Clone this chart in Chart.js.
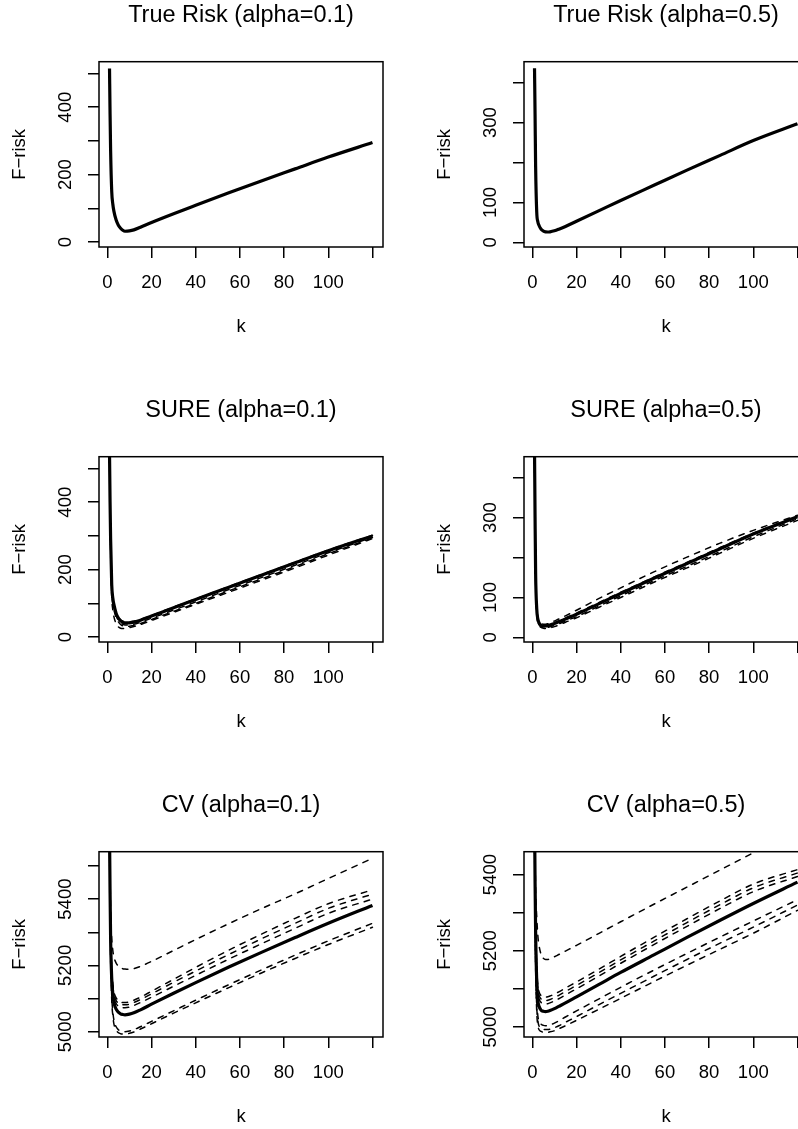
<!DOCTYPE html>
<html lang="en">
<head>
    <meta charset="UTF-8">
    <title>F-risk versus k</title>
    <script src="https://cdn.jsdelivr.net/npm/chart.js"></script>
    <style>
        body { margin: 0; background: #fff; width: 798px; height: 1129px; overflow: hidden; position: relative; }
        canvas { position: absolute; }
    </style>
</head>
<body>
<canvas id="trueRisk01" width="425" height="395" style="left:0;top:0"></canvas>
<canvas id="trueRisk05" width="425" height="395" style="left:425px;top:0"></canvas>
<canvas id="sure01" width="425" height="395" style="left:0;top:395px"></canvas>
<canvas id="sure05" width="425" height="395" style="left:425px;top:395px"></canvas>
<canvas id="cv01" width="425" height="395" style="left:0;top:790px"></canvas>
<canvas id="cv05" width="425" height="395" style="left:425px;top:790px"></canvas>

<script>
    const kGrid = [1, 1.25, 1.5, 2, 2.5, 3, 4, 5, 6, 7, 8, 10, 12, 15, 20, 30, 40, 55, 70, 85, 100, 120];

    const xTicks = [0, 20, 40, 60, 80, 100, 120];
    const xLabels = ['0', '20', '40', '60', '80', '100', ''];

    const yTicks01 = [0, 100, 200, 300, 400, 500];
    const yLabels01 = ['0', '', '200', '', '400', ''];
    const yTicks05 = [0, 100, 200, 300, 400];
    const yLabels05 = ['0', '100', '', '300', ''];
    const yTicksCv01 = [5000, 5100, 5200, 5300, 5400, 5500];
    const yLabelsCv01 = ['5000', '', '5200', '', '5400', ''];
    const yTicksCv05 = [5000, 5100, 5200, 5300, 5400];
    const yLabelsCv05 = ['5000', '', '5200', '', '5400'];

    // true risk
    const trueRisk01 = [515, 380, 270, 150, 112, 91, 65, 50, 41, 35, 32, 33, 36, 44, 58, 84, 109, 146, 182, 217, 252, 295];
    const trueRisk05 = [436, 320, 190, 76, 52, 43, 33, 28.5, 26.5, 26, 26.5, 29, 33, 40, 53, 79, 105, 143, 181, 218, 255, 297];

    // SURE: mean (solid) and replicates (dashed)
    const sure01 = [545, 400, 290, 155, 115, 96, 70, 56, 48, 44, 42, 42, 44, 50, 62, 87, 111, 148, 184, 220, 256, 300];
    const sureRep01a = [560, 380, 250, 120, 80, 60, 40, 30, 26, 25, 26, 28, 31, 37, 49, 73, 97, 133, 169, 205, 243, 292];
    const sureRep01b = [530, 400, 285, 145, 105, 86, 63, 50, 42, 38, 36, 36, 38, 44, 56, 80, 104, 141, 177, 213, 250, 296];
    const sureRep01c = [550, 410, 300, 155, 115, 98, 73, 59, 51, 47, 45, 45, 47, 52, 64, 89, 113, 150, 186, 222, 258, 302];
    const sureRep01d = [540, 390, 270, 135, 97, 80, 58, 45, 37, 33, 31, 32, 34, 40, 52, 76, 100, 137, 173, 209, 247, 294];

    const sure05 = [470, 300, 160, 72, 46, 37, 30.5, 28, 28.5, 29.5, 31, 35, 39, 46, 58, 84, 110, 148, 185, 222, 259, 302];
    const sureRep05a = [480, 320, 180, 82, 52, 43, 36, 33, 33, 34, 36, 41, 46, 54, 68, 97, 124, 164, 201, 236, 268, 306];
    const sureRep05b = [455, 290, 150, 62, 40, 32, 26, 24, 24, 25, 26.5, 30, 34, 41, 52, 78, 104, 142, 178, 215, 252, 297];
    const sureRep05c = [475, 310, 165, 75, 48, 40, 33, 31, 31, 32, 33.5, 37, 41, 49, 61, 87, 113, 151, 188, 225, 261, 304];
    const sureRep05d = [445, 280, 140, 58, 37, 30, 25, 23, 22.5, 23, 24, 27, 31, 38, 49, 75, 100, 138, 174, 211, 248, 293];

    // CV: mean (solid) and folds (dashed)
    const cv01 = [5600, 5420, 5280, 5160, 5115, 5088, 5068, 5059, 5054, 5052, 5051, 5053, 5057, 5066, 5083, 5116, 5148, 5195, 5240, 5284, 5327, 5381];
    const cvRep01a = [5650, 5480, 5370, 5280, 5245, 5225, 5207, 5198, 5193, 5190, 5189, 5188, 5190, 5197, 5212, 5245, 5278, 5326, 5372, 5416, 5462, 5523];
    const cvRep01b = [5620, 5440, 5310, 5190, 5145, 5120, 5102, 5094, 5090, 5088, 5088, 5090, 5095, 5104, 5122, 5158, 5194, 5246, 5295, 5342, 5386, 5428];
    const cvRep01c = [5610, 5430, 5300, 5180, 5137, 5112, 5094, 5086, 5082, 5081, 5081, 5083, 5088, 5097, 5114, 5149, 5183, 5233, 5281, 5327, 5372, 5415];
    const cvRep01d = [5600, 5425, 5290, 5170, 5127, 5102, 5085, 5077, 5073, 5072, 5072, 5074, 5079, 5088, 5104, 5137, 5170, 5219, 5266, 5312, 5357, 5400];
    const cvRep01e = [5560, 5380, 5240, 5110, 5060, 5035, 5015, 5006, 5002, 5000, 5000, 5002, 5006, 5015, 5031, 5063, 5095, 5142, 5187, 5231, 5274, 5327];
    const cvRep01f = [5540, 5360, 5220, 5095, 5048, 5023, 5005, 4997, 4994, 4993, 4993, 4995, 4999, 5008, 5024, 5056, 5087, 5133, 5178, 5221, 5263, 5315];

    const cv05 = [5560, 5380, 5250, 5120, 5070, 5055, 5044, 5041, 5040, 5041, 5043, 5048, 5054, 5063, 5079, 5111, 5143, 5189, 5235, 5280, 5324, 5380];
    const cvRep05a = [5650, 5460, 5360, 5290, 5240, 5215, 5190, 5180, 5177, 5177, 5179, 5184, 5190, 5199, 5214, 5245, 5276, 5322, 5367, 5412, 5457, 5518];
    const cvRep05b = [5600, 5420, 5290, 5160, 5110, 5093, 5082, 5078, 5078, 5079, 5081, 5086, 5092, 5102, 5118, 5151, 5185, 5235, 5284, 5331, 5375, 5413];
    const cvRep05c = [5590, 5410, 5280, 5150, 5101, 5084, 5073, 5069, 5069, 5070, 5072, 5077, 5083, 5093, 5109, 5142, 5176, 5225, 5274, 5321, 5365, 5404];
    const cvRep05d = [5580, 5400, 5270, 5140, 5092, 5075, 5064, 5060, 5060, 5061, 5063, 5068, 5074, 5084, 5100, 5133, 5167, 5216, 5264, 5311, 5355, 5395];
    const cvRep05e = [5540, 5350, 5200, 5070, 5030, 5015, 5007, 5004, 5003, 5003, 5005, 5010, 5016, 5026, 5042, 5073, 5104, 5149, 5193, 5236, 5278, 5334];
    const cvRep05f = [5520, 5330, 5180, 5055, 5017, 5003, 4996, 4993, 4993, 4993, 4994, 4998, 5003, 5012, 5027, 5058, 5088, 5133, 5177, 5220, 5262, 5320];
    const cvRep05g = [5500, 5310, 5160, 5040, 5005, 4993, 4988, 4986, 4986, 4986, 4987, 4990, 4995, 5003, 5017, 5046, 5075, 5119, 5162, 5204, 5246, 5306];

    Chart.defaults.font.family = '"Liberation Sans", Arial, Helvetica, sans-serif';
    Chart.defaults.font.size = 18.5;
    Chart.defaults.color = '#000';

    // R-style closed box round the plot region
    const boxPlugin = {
        id: 'box',
        afterDraw(chart) {
            const a = chart.chartArea;
            const ctx = chart.ctx;
            ctx.save();
            ctx.strokeStyle = '#000';
            ctx.lineWidth = 1.5;
            ctx.strokeRect(a.left, a.top, a.right - a.left, a.bottom - a.top);
            ctx.restore();
        }
    };

    function toPoints(values) {
        return kGrid.map((k, i) => ({ x: k, y: values[i] }));
    }

    function solidLine(values) {
        return {
            data: toPoints(values),
            borderColor: '#000',
            borderWidth: 3.2,
            borderJoinStyle: 'round',
            pointRadius: 0,
            cubicInterpolationMode: 'monotone',
            clip: 0
        };
    }

    function dashedLine(values) {
        return {
            data: toPoints(values),
            borderColor: '#000',
            borderWidth: 1.5,
            borderDash: [5.5, 6.5],
            borderCapStyle: 'round',
            pointRadius: 0,
            cubicInterpolationMode: 'monotone',
            clip: 0
        };
    }

    function makePanel(id, title, yMin, yMax, yTicks, yLabels, solid, dashed) {
        const digits = Math.max(...yLabels.map(l => l.length));
        const datasets = dashed.map(dashedLine).concat([solidLine(solid)]);

        new Chart(document.getElementById(id), {
            type: 'line',
            data: { datasets },
            options: {
                responsive: false,
                animation: false,
                events: [],
                layout: { padding: { left: 0, right: 42, top: 0, bottom: 0 } },
                plugins: {
                    legend: { display: false },
                    tooltip: { enabled: false },
                    title: {
                        display: true,
                        text: title,
                        fullSize: false,
                        font: { size: 23.5, weight: 'normal' },
                        padding: { top: 1.5, bottom: 32 }
                    }
                },
                scales: {
                    x: {
                        type: 'linear',
                        min: -3.76,
                        max: 124.76,
                        afterBuildTicks: s => { s.ticks = xTicks.map(v => ({ value: v })); },
                        afterFit: s => { s.height = 148; },
                        ticks: {
                            autoSkip: false,
                            maxRotation: 0,
                            padding: 13.5,
                            callback: (v, i) => xLabels[i]
                        },
                        grid: { drawOnChartArea: false, drawTicks: true, tickLength: 11, color: '#000', lineWidth: 1.5 },
                        border: { display: false },
                        title: { display: true, text: 'k', padding: { top: 0, bottom: 56.5 } }
                    },
                    y: {
                        type: 'linear',
                        min: yMin,
                        max: yMax,
                        afterBuildTicks: s => { s.ticks = yTicks.map(v => ({ value: v })); },
                        afterFit: s => { s.width = 99; },
                        ticks: {
                            autoSkip: false,
                            minRotation: 90,
                            maxRotation: 90,
                            crossAlign: 'center',
                            padding: 22 - digits * 5.1,
                            callback: (v, i) => yLabels[i]
                        },
                        grid: { drawOnChartArea: false, drawTicks: true, tickLength: 11, color: '#000', lineWidth: 1.5 },
                        border: { display: false },
                        title: { display: true, text: 'F\u2212risk', padding: { top: 9, bottom: 0 } }
                    }
                }
            },
            plugins: [boxPlugin]
        });
    }

    makePanel('trueRisk01', 'True Risk (alpha=0.1)', -14.8, 535, yTicks01, yLabels01, trueRisk01, []);
    makePanel('trueRisk05', 'True Risk (alpha=0.5)', -11.5, 452.5, yTicks05, yLabels05, trueRisk05, []);
    makePanel('sure01', 'SURE (alpha=0.1)', -14.8, 535, yTicks01, yLabels01, sure01,
        [sureRep01a, sureRep01b, sureRep01c, sureRep01d]);
    makePanel('sure05', 'SURE (alpha=0.5)', -11.5, 452.5, yTicks05, yLabels05, sure05,
        [sureRep05a, sureRep05b, sureRep05c, sureRep05d]);
    makePanel('cv01', 'CV (alpha=0.1)', 4984, 5543, yTicksCv01, yLabelsCv01, cv01,
        [cvRep01a, cvRep01b, cvRep01c, cvRep01d, cvRep01e, cvRep01f]);
    makePanel('cv05', 'CV (alpha=0.5)', 4973.5, 5460, yTicksCv05, yLabelsCv05, cv05,
        [cvRep05a, cvRep05b, cvRep05c, cvRep05d, cvRep05e, cvRep05f, cvRep05g]);
</script>
</body>
</html>
